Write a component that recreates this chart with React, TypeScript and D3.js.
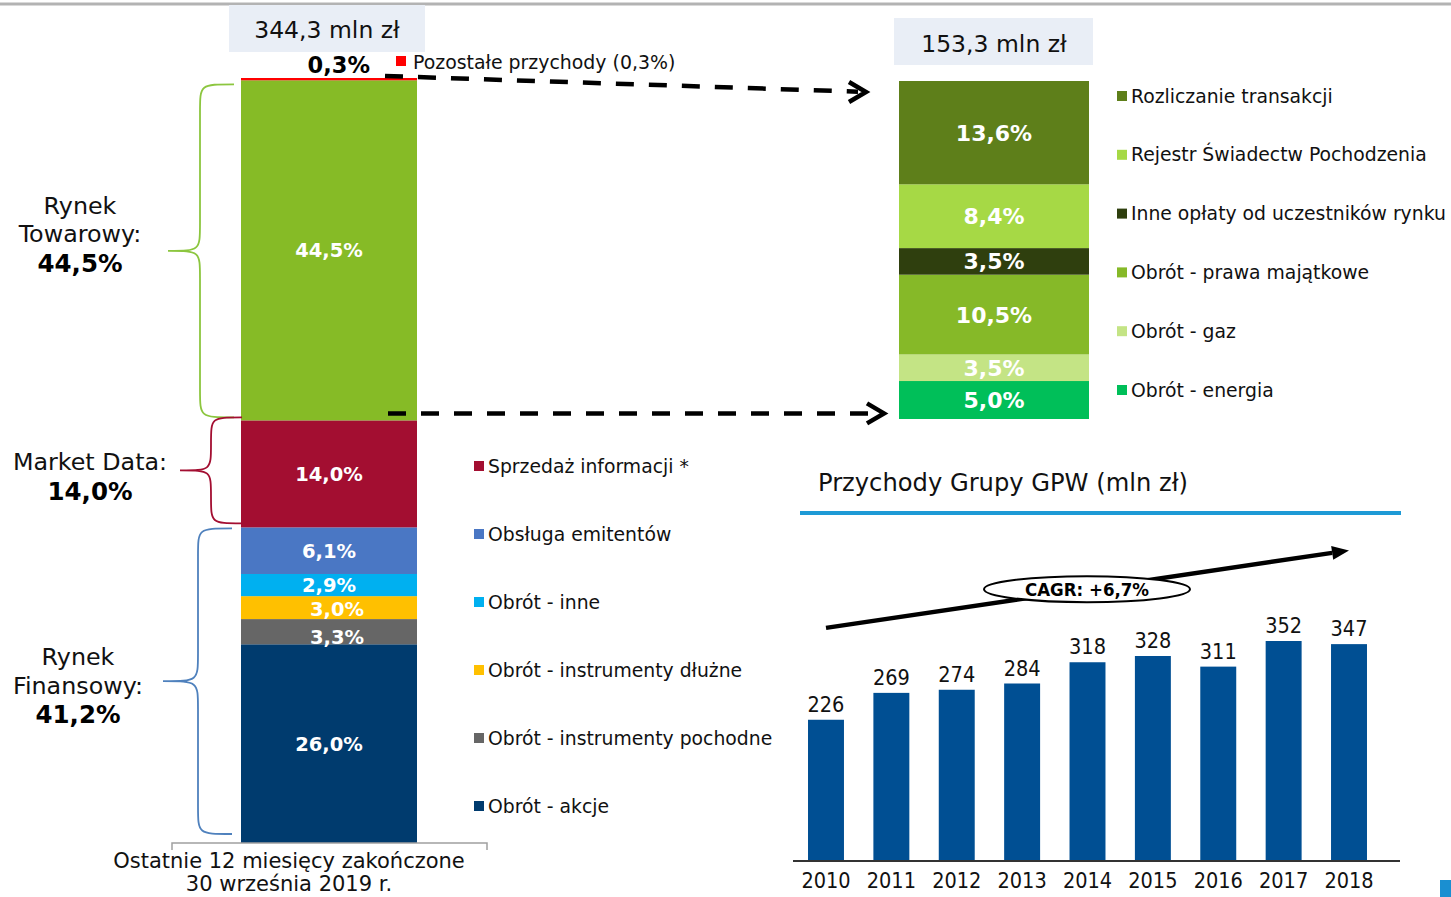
import React from "react";
import * as d3 from "d3";

const W = 1451;
const H = 897;
const FONT = "'DejaVu Sans', Verdana, sans-serif";
const NARROW = "'DejaVu Sans Condensed', 'DejaVu Sans', sans-serif";

// left bar, bottom to top (% of 344,3 mln zł)
const leftSegments = [
  "Obrót - akcje",
  "Obrót - instrumenty pochodne",
  "Obrót - instrumenty dłużne",
  "Obrót - inne",
  "Obsługa emitentów",
  "Sprzedaż informacji *",
  "Rynek Towarowy",
  "Pozostałe przychody",
];
const leftValues = [26.0, 3.3, 3.0, 2.9, 6.1, 14.0, 44.5, 0.3];
const leftColors = ["#003b6e", "#666666", "#ffc000", "#00b0f0", "#4a77c4", "#a30e31", "#86bb26", "#ff0000"];
const leftTotal = "344,3 mln zł";
const leftLegend = [
  "Sprzedaż informacji *",
  "Obsługa emitentów",
  "Obrót - inne",
  "Obrót - instrumenty dłużne",
  "Obrót - instrumenty pochodne",
  "Obrót - akcje",
];
const otherLabel = "Pozostałe przychody (0,3%)";

// brace groups on the left
const groupLines = [["Rynek", "Towarowy:"], ["Market Data:"], ["Rynek", "Finansowy:"]];
const groupPct = ["44,5%", "14,0%", "41,2%"];
const groupFirst = [6, 5, 0];
const groupLast = [6, 5, 4];
const groupColors = ["#8cc63f", "#a30e31", "#4f81bd"];

// right bar, bottom to top (commodity market)
const rightSegments = [
  "Obrót - energia",
  "Obrót - gaz",
  "Obrót - prawa majątkowe",
  "Inne opłaty od uczestników rynku",
  "Rejestr Świadectw Pochodzenia",
  "Rozliczanie transakcji",
];
const rightValues = [5.0, 3.5, 10.5, 3.5, 8.4, 13.6];
const rightColors = ["#00bf59", "#c4e485", "#86b928", "#2f3f0e", "#a6d945", "#5e7f1a"];
const rightTotal = "153,3 mln zł";

// revenue chart
const years = ["2010", "2011", "2012", "2013", "2014", "2015", "2016", "2017", "2018"];
const revenue = [226, 269, 274, 284, 318, 328, 311, 352, 347];
const revTitle = "Przychody Grupy GPW (mln zł)";
const cagrText = "CAGR: +6,7%";

const caption = ["Ostatnie 12 miesięcy zakończone", "30 września 2019 r."];

const pct = (v: number) => v.toFixed(1).replace(".", ",") + "%";

function brace(xe: number, xm: number, xt: number, y0: number, y1: number) {
  const ym = (y0 + y1) / 2;
  const r = Math.min(28, (y1 - y0) / 4);
  return `M${xe},${y0} C${xm},${y0} ${xm},${y0} ${xm},${y0 + r} L${xm},${ym - r} C${xm},${ym} ${xm},${ym} ${xt},${ym} C${xm},${ym} ${xm},${ym} ${xm},${ym + r} L${xm},${y1 - r} C${xm},${y1} ${xm},${y1} ${xe},${y1}`;
}

export default function App() {
  // left bar
  const leftSum = d3.sum(leftValues);
  const yL = d3.scaleLinear().domain([0, leftSum]).range([843, 78]);
  const leftTop = Array.from(d3.cumsum(leftValues));
  const lx0 = 241, lx1 = 417, lcx = (lx0 + lx1) / 2;
  const nudge: Record<number, [number, number]> = { 2: [8, 1], 1: [8, 5] };

  // right bar
  const rightSum = d3.sum(rightValues);
  const yR = d3.scaleLinear().domain([0, rightSum]).range([419, 81]);
  const rightTop = Array.from(d3.cumsum(rightValues));
  const rx0 = 899, rx1 = 1089, rcx = (rx0 + rx1) / 2;

  const legL = d3.scalePoint<string>().domain(leftLegend).range([466, 806]);
  const legR = d3.scalePoint<string>().domain(rightSegments.slice().reverse()).range([96, 390]);

  // brace geometry
  const braceX = [
    { xe: 234, xm: 200, xt: 168 },
    { xe: 242, xm: 211, xt: 180 },
    { xe: 232, xm: 198, xt: 163 },
  ];
  const braceInset = [[4, 3], [-3, 4], [1, 9]];
  const labelX = [80, 90, 78];
  const labelDy = [-37, 0, -16];

  // revenue chart
  const xB = d3.scaleBand<string>().domain(years).range([793.3, 1381.7]).paddingInner(0.45).paddingOuter(0.225);
  const yB = d3.scaleLinear().domain([0, 400]).range([861, 611]);
  const bw = xB.bandwidth();
  const a0: [number, number] = [(xB("2010") as number) + bw / 2, yB(373)];
  const a1: [number, number] = [(xB("2018") as number) + bw / 2, yB(497)];
  const ang = Math.atan2(a1[1] - a0[1], a1[0] - a0[0]);
  const headL = 17, headW = 7;
  const hb: [number, number] = [a1[0] - headL * Math.cos(ang), a1[1] - headL * Math.sin(ang)];
  const head = [
    a1,
    [hb[0] + headW * Math.sin(ang), hb[1] - headW * Math.cos(ang)],
    [hb[0] - headW * Math.sin(ang), hb[1] + headW * Math.cos(ang)],
  ].map((p) => p.join(",")).join(" ");
  const ec: [number, number] = [1087, a0[1] + (1087 - a0[0]) * Math.tan(ang)];

  // dashed connectors
  const topY0 = yL(leftSum) - 2;
  const topY1 = yR(rightSum) + 11;
  const botY = yL(leftTop[5]) - 7;

  return (
    <svg width={W} height={H} style={{ position: "absolute", left: 0, top: 0, background: "#fff" }} fontFamily={FONT}>
      <line x1={0} x2={W} y1={4} y2={4} stroke="#b3b3b3" strokeWidth={3} />

      {/* left bar */}
      <rect x={229} y={5} width={196} height={47} fill="#e9eef6" />
      <text x={327} y={38} fontSize={23.5} textAnchor="middle" fill="#111">{leftTotal}</text>
      {leftValues.map((v, i) => (
        <rect key={i} x={lx0} width={lx1 - lx0} y={yL(leftTop[i])} height={yL(leftTop[i] - v) - yL(leftTop[i])} fill={leftColors[i]} />
      ))}
      {leftValues.map((v, i) => {
        if (i === leftValues.length - 1) return null;
        const mid = yL(leftTop[i] - v / 2);
        const [dx, dy] = nudge[i] || [0, 0];
        return (
          <text key={i} x={lcx + dx} y={mid + 7 + dy} fontSize={19.5} fontWeight="bold" fill="#fff" textAnchor="middle">{pct(v)}</text>
        );
      })}
      <text x={370} y={73} fontSize={22.5} fontWeight="bold" textAnchor="end" fill="#000">{pct(leftValues[7])}</text>
      <rect x={396} y={56} width={10} height={10} fill={leftColors[7]} />
      <text x={413} y={69} fontSize={18.9} fill="#111">{otherLabel}</text>

      {/* braces */}
      {groupLines.map((lines, g) => {
        const y0 = yL(leftTop[groupLast[g]]) + braceInset[g][0];
        const y1 = yL(leftTop[groupFirst[g]] - leftValues[groupFirst[g]]) - braceInset[g][1];
        const tip = (y0 + y1) / 2;
        const b = braceX[g];
        const base = tip + labelDy[g];
        return (
          <g key={g}>
            <path d={brace(b.xe, b.xm, b.xt, y0, y1)} fill="none" stroke={groupColors[g]} strokeWidth={1.8} />
            {lines.map((t, k) => (
              <text key={k} x={labelX[g]} y={base + k * 28.5} fontSize={23.8} textAnchor="middle" fill="#111">{t}</text>
            ))}
            <text x={labelX[g]} y={base + lines.length * 28.5 + 1} fontSize={24.5} fontWeight="bold" textAnchor="middle" fill="#000">{groupPct[g]}</text>
          </g>
        );
      })}

      {/* left legend */}
      {leftLegend.map((name) => {
        const y = legL(name) as number;
        return (
          <g key={name}>
            <rect x={474} y={y - 5} width={10} height={10} fill={leftColors[leftSegments.indexOf(name)]} />
            <text x={488} y={y + 6.5} fontSize={18.8} fill="#111">{name}</text>
          </g>
        );
      })}

      {/* caption under left bar */}
      <path d="M172,850 V843 H487 V850" fill="none" stroke="#a0a0a0" strokeWidth={1.5} />
      {caption.map((t, k) => (
        <text key={k} x={289} y={868 + k * 23} fontSize={21} textAnchor="middle" fill="#111">{t}</text>
      ))}

      {/* dashed connectors */}
      <line x1={385} y1={topY0} x2={858} y2={topY1 - 0.3} stroke="#000" strokeWidth={4.5} strokeDasharray="18,15" />
      <polyline points={`849,${topY1 - 10} 866,${topY1} 849,${topY1 + 10}`} fill="none" stroke="#000" strokeWidth={4.5} />
      <line x1={388} y1={botY} x2={876} y2={botY} stroke="#000" strokeWidth={4.5} strokeDasharray="18,15" />
      <polyline points={`867,${botY - 10} 884,${botY} 867,${botY + 10}`} fill="none" stroke="#000" strokeWidth={4.5} />

      {/* right bar */}
      <rect x={894} y={18} width={199} height={47} fill="#e9eef6" />
      <text x={994} y={52} fontSize={23.5} textAnchor="middle" fill="#111">{rightTotal}</text>
      {rightValues.map((v, i) => (
        <rect key={i} x={rx0} width={rx1 - rx0} y={yR(rightTop[i])} height={yR(rightTop[i] - v) - yR(rightTop[i])} fill={rightColors[i]} />
      ))}
      {rightValues.map((v, i) => (
        <text key={i} x={rcx} y={yR(rightTop[i] - v / 2) + 8} fontSize={22} fontWeight="bold" fill="#fff" textAnchor="middle">{pct(v)}</text>
      ))}
      {rightSegments.map((name, i) => {
        const y = legR(name) as number;
        return (
          <g key={name}>
            <rect x={1117} y={y - 5} width={10} height={10} fill={rightColors[i]} />
            <text x={1131} y={y + 6.5} fontSize={18.8} fill="#111">{name}</text>
          </g>
        );
      })}

      {/* revenue chart */}
      <text x={818} y={491} fontSize={24.2} fill="#111">{revTitle}</text>
      <line x1={800} x2={1401} y1={513} y2={513} stroke="#1e9ad6" strokeWidth={4} />
      {revenue.map((v, i) => (
        <g key={years[i]}>
          <rect x={xB(years[i])} y={yB(v)} width={bw} height={yB(0) - yB(v)} fill="#004f93" />
          <text x={(xB(years[i]) as number) + bw / 2} y={yB(v) - 8} fontSize={21.5} fontFamily={NARROW} textAnchor="middle" fill="#111">{v}</text>
          <text x={(xB(years[i]) as number) + bw / 2} y={888} fontSize={21.5} fontFamily={NARROW} textAnchor="middle" fill="#111">{years[i]}</text>
        </g>
      ))}
      <line x1={793} x2={1400} y1={yB(0)} y2={yB(0)} stroke="#333" strokeWidth={2} />

      <line x1={a0[0]} y1={a0[1]} x2={hb[0]} y2={hb[1]} stroke="#000" strokeWidth={4.5} />
      <polygon points={head} fill="#000" />
      <ellipse cx={ec[0]} cy={ec[1]} rx={103} ry={13} fill="#fff" stroke="#000" strokeWidth={2} />
      <text x={ec[0]} y={ec[1] + 6.5} fontSize={18.5} fontWeight="bold" fontFamily={NARROW} textAnchor="middle" fill="#000">{cagrText}</text>

      <rect x={1440} y={880} width={11} height={17} fill="#1a8fd1" />
    </svg>
  );
}
